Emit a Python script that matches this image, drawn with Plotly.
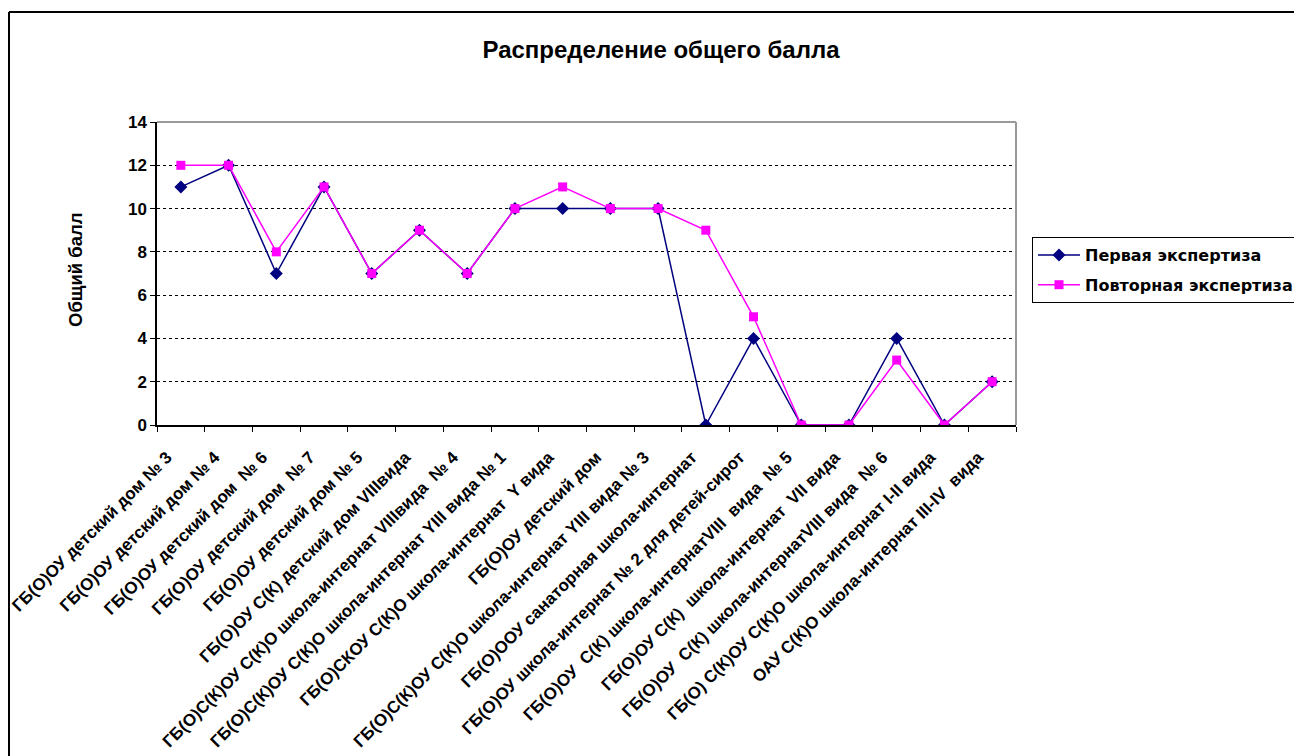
import plotly.graph_objects as go

categories = [
    "ГБ(О)ОУ детский дом № 3",
    "ГБ(О)ОУ детский дом № 4",
    "ГБ(О)ОУ детский дом  № 6",
    "ГБ(О)ОУ детский дом  № 7",
    "ГБ(О)ОУ детский дом № 5",
    "ГБ(О)ОУ С(К) детский дом VIIIвида",
    "ГБ(О)С(К)ОУ С(К)О школа-интернат VIIIвида  № 4",
    "ГБ(О)С(К)ОУ С(К)О школа-интернат YIII вида № 1",
    "ГБ(О)СКОУ С(К)О школа-интернат  Y вида",
    "ГБ(О)ОУ детский дом",
    "ГБ(О)С(К)ОУ С(К)О школа-интернат YIII вида № 3",
    "ГБ(О)ООУ санаторная школа-интернат",
    "ГБ(О)ОУ школа-интернат № 2 для детей-сирот",
    "ГБ(О)ОУ  С(К) школа-интернатVIII  вида  № 5",
    "ГБ(О)ОУ С(К)  школа-интернат  VII вида",
    "ГБ(О)ОУ  С(К) школа-интернатVIII вида  № 6",
    "ГБ(О) С(К)ОУ С(К)О школа-интернат I-II вида",
    "ОАУ С(К)О школа-интернат III-IV  вида",
]
first_exam = [11, 12, 7, 11, 7, 9, 7, 10, 10, 10, 10, 0, 4, 0, 0, 4, 0, 2]
second_exam = [12, 12, 8, 11, 7, 9, 7, 10, 11, 10, 10, 9, 5, 0, 0, 3, 0, 2]
y_ticks = [0, 2, 4, 6, 8, 10, 12, 14]

FONT = "Liberation Sans, Arial, sans-serif"
WIDE = "DejaVu Sans, Liberation Sans, sans-serif"

fig = go.Figure()
fig.add_trace(go.Scatter(
    x=categories, y=first_exam, mode="lines+markers", name="Первая экспертиза",
    legendgroup="a",
    line=dict(color="#000080", width=1.5),
    marker=dict(symbol="diamond", size=10, color="#000080"),
))
fig.add_trace(go.Scatter(
    x=categories, y=second_exam, mode="lines+markers", name="Повторная экспертиза",
    legendgroup="b",
    line=dict(color="#FF00FF", width=1.5),
    marker=dict(symbol="square", size=9, color="#FF00FF"),
))

OFF = 8  # page body margin
W, H = 1302, 756
L, R, T, B = 157 - OFF, 1016 - OFF, 122 - OFF, 425 - OFF
pw, ph = R - L, B - T

def px(x):
    return (x - OFF - L) / pw

def py(y):
    return (B - (y - OFF)) / ph

fig.update_layout(
    width=W, height=H,
    margin=dict(l=L, r=W - R, t=T, b=H - B, pad=0, autoexpand=False),
    paper_bgcolor="white", plot_bgcolor="white",
    font=dict(family=FONT, color="black"),
    title=dict(text="Распределение общего балла", x=(661 - OFF) / W, xanchor="center",
               y=1 - (50 - OFF) / H, yanchor="middle",
               font=dict(size=24, family=FONT, color="black", weight="bold")),
    showlegend=True,
    legend=dict(x=px(1032), y=py(237), xanchor="left", yanchor="top",
                bordercolor="black", borderwidth=1, bgcolor="white",
                font=dict(size=16, family=WIDE, color="black", weight="bold"),
                tracegroupgap=6, itemwidth=42),
    xaxis=dict(
        type="category", tickangle=-45, tickson="boundaries", automargin=False,
        ticks="outside", ticklen=5, tickcolor="black", tickwidth=1,
        showline=True, linecolor="black", linewidth=1.5,
        showgrid=False, tickfont=dict(size=17, family=FONT, color="black", weight="bold"),
        ticklabelstandoff=14, ticklabelshift=-14,
        range=[-0.5, len(categories) - 0.5],
    ),
    yaxis=dict(
        range=[0, 14], tickvals=y_ticks, ticks="outside", ticklen=5, tickcolor="black",
        automargin=False,
        showline=True, linecolor="black", linewidth=1.5,
        showgrid=True, gridcolor="black", gridwidth=1, griddash="3px,3px",
        tickfont=dict(size=17, family=FONT, color="black", weight="bold"), zeroline=False,
    ),
)

# y axis title
fig.add_annotation(text="Общий балл", textangle=-90, x=px(75), y=py(270),
                   xref="paper", yref="paper", xanchor="center", yanchor="middle",
                   showarrow=False,
                   font=dict(size=18.5, family=FONT, color="black", weight="bold"))

# plot area border (top and right, gray)
fig.add_shape(type="line", xref="paper", yref="paper", x0=0, x1=1, y0=1, y1=1,
              line=dict(color="#999999", width=2), layer="above")
fig.add_shape(type="line", xref="paper", yref="paper", x0=1, x1=1, y0=0, y1=1,
              line=dict(color="#999999", width=2), layer="above")
# chart outer border (left and top)
fig.add_shape(type="line", xref="paper", yref="paper", x0=px(9), x1=px(9), y0=py(12), y1=py(H + 20),
              line=dict(color="black", width=2))
fig.add_shape(type="line", xref="paper", yref="paper", x0=px(9), x1=px(W + 20), y0=py(12), y1=py(12),
              line=dict(color="black", width=2))

fig.write_html("out.html")
